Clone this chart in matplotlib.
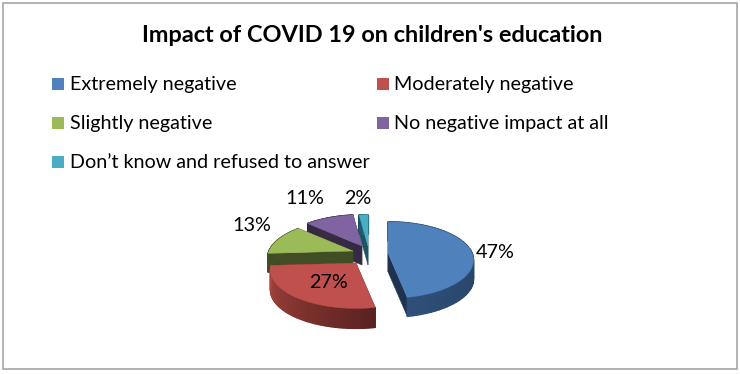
import numpy as np
import matplotlib
matplotlib.use("Agg")
import matplotlib.pyplot as plt
from matplotlib.collections import PolyCollection
from matplotlib.patches import Rectangle

title = "Impact of COVID 19 on children's education"
categories = ["Extremely negative", "Moderately negative", "Slightly negative",
              "No negative impact at all", "Don\u2019t know and refused to answer"]
values = [47, 27, 13, 11, 2]
labels = ["47%", "27%", "13%", "11%", "2%"]

colors = ["#4F81BD", "#C0504D", "#9BBB59", "#8064A2", "#4BACC6"]
side_light = ["#2F4F78", "#A8463F", "#48562A", "#3F3150", "#2A6A7C"]
side_dark = ["#1D3350", "#5A2220", "#3F4C22", "#33283F", "#1F5363"]
face_cut = ["#1D3350", "#5A2220", "#414D24", "#352A44", "#1F5363"]

# wedge apex positions in pixels (exploded 3D pie layout)
apex = [(388, 253), (356, 263), (353, 251), (362, 246), (368, 246)]
depth = [19, 20, 19, 19, 19]
draw_order = [4, 3, 2, 0, 1]
label_pos = [(495, 252), (328, 282), (252, 225), (305, 198), (358, 198)]

RX, RY, K = 84, 37, 0.185

fig = plt.figure(figsize=(7.4, 3.74), dpi=100, facecolor="white")
ax = fig.add_axes([0, 0, 1, 1])
ax.set_xlim(0, 740)
ax.set_ylim(374, 0)
ax.axis("off")

FONT = ["Lato", "DejaVu Sans"]
ax.add_patch(Rectangle((2.5, 2.5), 734, 366, fc="white", ec="#A6A6A6", lw=1.2))
ax.text(372, 35, title, ha="center", va="center", fontsize=16.9,
        fontweight="bold", family=FONT, color="black")

legend_xy = [(52, 84), (377, 84), (52, 123), (377, 123), (52, 162)]
for (x, y), c, name in zip(legend_xy, colors, categories):
    ax.add_patch(Rectangle((x, y - 6), 11.5, 11.5, fc=c, ec="none"))
    ax.text(x + 17.5, y + 0.7, name, ha="left", va="center", fontsize=14.2,
            family=FONT, color="black")


def project(theta_deg, centre):
    t = np.radians(theta_deg)
    u, v = np.sin(t), np.cos(t)
    w = 1 + K * v
    return centre[0] + RX * u / w, centre[1] - RY * v / w


def lerp_hex(a, b, f):
    ca, cb = np.array(matplotlib.colors.to_rgb(a)), np.array(matplotlib.colors.to_rgb(b))
    return tuple(ca + (cb - ca) * f)


edges = np.concatenate([[0], np.cumsum(values)]) / np.sum(values) * 360
for order, i in enumerate(draw_order):
    a0, a1 = edges[i], edges[i + 1]
    c = apex[i]
    d = depth[i]
    thetas = np.linspace(a0, a1, 60)
    xs, ys = project(thetas, c)
    # cut faces
    for a in (a0, a1):
        px, py = project(a, c)
        ax.fill([c[0], px, px, c[0]], [c[1], py, py + d, c[1] + d],
                color=face_cut[i], lw=0.3, zorder=2 + order)
    # outer face as shaded strips, no antialiasing seams
    quads = [[(xs[j], ys[j]), (xs[j + 1], ys[j + 1]),
              (xs[j + 1], ys[j + 1] + d), (xs[j], ys[j] + d)]
             for j in range(len(thetas) - 1)]
    cols = [lerp_hex(side_dark[i], side_light[i], j / (len(quads) - 1)) for j in range(len(quads))]
    ax.add_collection(PolyCollection(quads, facecolors=cols, edgecolors=cols,
                                     linewidths=1.0, zorder=2 + order))
    # top face
    ax.fill(np.r_[c[0], xs], np.r_[c[1], ys], color=colors[i], lw=0.3,
            zorder=2.5 + order)

for (x, y), s in zip(label_pos, labels):
    ax.text(x, y, s, ha="center", va="center", fontsize=14.2, family=FONT,
            color="black", zorder=20)

fig.savefig("out.png", dpi=100, facecolor="white")
